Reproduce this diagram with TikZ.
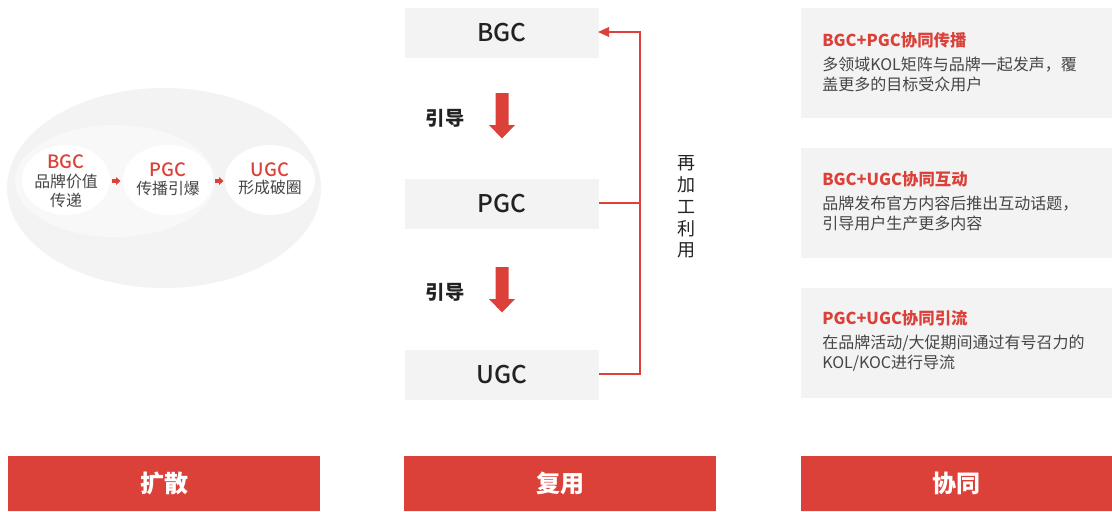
\documentclass[tikz,border=0pt]{standalone}
\usepackage{fontspec}
\setmainfont{Noto Sans CJK SC}
\newfontfamily\medfont{Noto Sans CJK SC Medium}
\definecolor{brand}{HTML}{DB4139}
\definecolor{boxgray}{HTML}{F3F3F3}
\definecolor{outerell}{HTML}{F3F3F3}
\definecolor{innerell}{HTML}{F8F8F8}
\definecolor{txt}{HTML}{222222}
\definecolor{bodytxt}{HTML}{454545}
\begin{document}
\begin{tikzpicture}[x=0.75pt,y=-0.75pt,
  bar/.style={fill=brand,draw=none,minimum width=234pt,minimum height=41.25pt,inner sep=0pt,
    text=white,font=\bfseries\fontsize{18}{20}\selectfont},
  midbox/.style={fill=boxgray,draw=none,minimum width=145.5pt,minimum height=37.5pt,inner sep=0pt,
    text=txt,font=\medfont\fontsize{18.3}{20}\selectfont},
  panel/.style={fill=boxgray,draw=none,minimum width=233.25pt,minimum height=82.5pt,inner sep=0pt},
  ptitle/.style={anchor=west,inner sep=0pt,text=brand,font=\bfseries\fontsize{12.3}{14}\selectfont},
  pbody/.style={anchor=north west,inner sep=0pt,text=bodytxt,align=left,font=\fontsize{12}{15}\selectfont},
  bname/.style={inner sep=0pt,text=brand,font=\medfont\fontsize{13.8}{14}\selectfont},
  bdesc/.style={inner sep=0pt,text=bodytxt,align=center,font=\fontsize{11.9}{14.2}\selectfont},
  guide/.style={inner sep=0pt,text=txt,font=\bfseries\fontsize{14.5}{16}\selectfont},
  loopline/.style={draw=brand,line width=1.1pt},
  blockarrow/.style={fill=brand,draw=none},
]
\useasboundingbox (0,0) rectangle (1112,511);

% ---------- left: diffusion ----------
\fill[outerell] (164,188) ellipse [x radius=157, y radius=100];
\fill[innerell] (115,181) ellipse [x radius=100, y radius=56];
\fill[white] (66,180) ellipse [x radius=44, y radius=35];
\fill[white] (168,180) ellipse [x radius=45, y radius=35];
\fill[white] (270,180) ellipse [x radius=45, y radius=35];
\node[bname] (bgcname) at (66,162) {BGC};
\node[bdesc] (bgcdesc) at (66,191) {品牌价值\\传递};
\node[bname] (pgcname) at (168,170) {PGC};
\node[bdesc] (pgcdesc) at (168,188) {传播引爆};
\node[bname] (ugcname) at (270,170) {UGC};
\node[bdesc] (ugcdesc) at (270,188) {形成破圈};
% small red arrows
\fill[blockarrow] (112,179.2) -- (116,179.2) -- (116,177) -- (120.5,181) -- (116,185) -- (116,182.8) -- (112,182.8) -- cycle;
\fill[blockarrow] (215,179.2) -- (219,179.2) -- (219,177) -- (223.5,181) -- (219,185) -- (219,182.8) -- (215,182.8) -- cycle;

% ---------- middle: reuse ----------
\node[midbox] (bgc) at (502,33) {BGC};
\node[midbox] (pgc) at (502,204) {PGC};
\node[midbox] (ugc) at (502,375) {UGC};
\node[guide] (g1) at (445,118) {引导};
\node[guide] (g2) at (445,292) {引导};
% down block arrows
\fill[blockarrow] (495.5,93) -- (508.5,93) -- (508.5,125) -- (515,125) -- (502,138.5) -- (489,125) -- (495.5,125) -- cycle;
\fill[blockarrow] (495.5,267) -- (508.5,267) -- (508.5,299) -- (515,299) -- (502,312.5) -- (489,299) -- (495.5,299) -- cycle;
% reuse loop
\coordinate (loopbot) at (640,374);
\coordinate (looptop) at (640,32);
\coordinate (loopmid) at (640,203);
\draw[loopline] (ugc.east |- loopbot) -- (loopbot) -- (looptop) -- (601,32);
\fill[brand] (598,32) -- (609,27) -- (609,37) -- cycle;
\draw[loopline] (pgc.east |- loopmid) -- (loopmid);
\node[inner sep=0pt,text=txt,align=center,font=\fontsize{13.5}{16.4}\selectfont] (reuse) at (686,207) {再\\加\\工\\利\\用};

% ---------- right: synergy ----------
\node[panel] (p1) at (956.5,63) {};
\node[panel] (p2) at (956.5,203) {};
\node[panel] (p3) at (956.5,342.5) {};
\node[ptitle] (t1) at (822,40) {BGC+PGC协同传播};
\node[pbody] (b1) at (822,57) {多领域KOL矩阵与品牌一起发声，覆\\盖更多的目标受众用户};
\node[ptitle] (t2) at (822,179) {BGC+UGC协同互动};
\node[pbody] (b2) at (822,196) {品牌发布官方内容后推出互动话题，\\引导用户生产更多内容};
\node[ptitle] (t3) at (822,318) {PGC+UGC协同引流};
\node[pbody] (b3) at (822,335) {在品牌活动/大促期间通过有号召力的\\KOL/KOC进行导流};

% ---------- bottom bars ----------
\node[bar] (bar1) at (164,483.5) {扩散};
\node[bar] (bar2) at (560,483.5) {复用};
\node[bar,minimum width=233.25pt] (bar3) at (956.5,483.5) {协同};
\end{tikzpicture}
\end{document}
